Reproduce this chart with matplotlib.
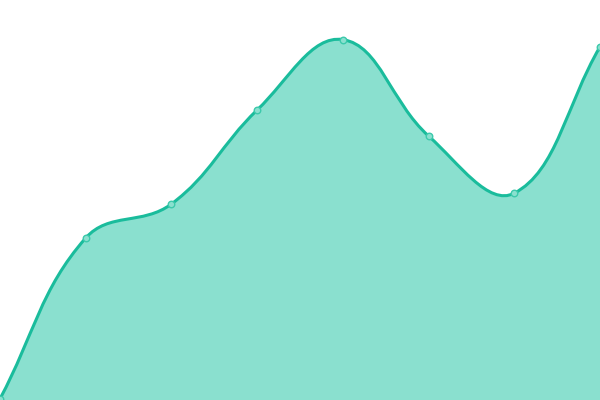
import numpy as np
import matplotlib
matplotlib.use("Agg")
import matplotlib.pyplot as plt
from matplotlib.path import Path
from matplotlib.patches import PathPatch

# data points (x index, value on a 0..100 scale)
labels = ["0", "1", "2", "3", "4", "5", "6", "7"]
values = [0.3, 40.5, 49.0, 72.5, 90.1, 66.0, 51.7, 88.3]

line_color = "#1abc9c"
fill_color = "#8ae0cf"

W, H = 600, 400
x_max = len(values) - 1
y_max = 100.0


def to_px(x, y):
	return np.array([x * W / x_max, y * H / y_max])


def to_data(p):
	return p[0] * x_max / W, p[1] * y_max / H


def spline_controls(pts, t=0.4):
	# chart.js style spline control points, computed in pixel space
	n = len(pts)
	cps = []
	for i in range(n):
		prev = pts[i - 1] if i > 0 else pts[i]
		cur = pts[i]
		nxt = pts[i + 1] if i < n - 1 else pts[i]
		d01 = np.hypot(*(cur - prev))
		d12 = np.hypot(*(nxt - cur))
		s = d01 + d12
		fa = t * d01 / s if s else 0
		fb = t * d12 / s if s else 0
		cp_prev = cur - fa * (nxt - prev)
		cp_next = cur + fb * (nxt - prev)
		cp_prev = np.clip(cp_prev, [0, 0], [W, H])
		cp_next = np.clip(cp_next, [0, 0], [W, H])
		cps.append((cp_prev, cp_next))
	return cps


xs = np.arange(len(values))
pts = [to_px(x, y) for x, y in zip(xs, values)]
cps = spline_controls(pts)

verts = [to_data(pts[0])]
codes = [Path.MOVETO]
for i in range(1, len(pts)):
	verts += [to_data(cps[i - 1][1]), to_data(cps[i][0]), to_data(pts[i])]
	codes += [Path.CURVE4] * 3

line_path = Path(verts, codes)
fill_verts = verts + [(xs[-1], 0), (xs[0], 0), verts[0]]
fill_codes = codes + [Path.LINETO, Path.LINETO, Path.CLOSEPOLY]
fill_path = Path(fill_verts, fill_codes)

fig = plt.figure(figsize=(6, 4), dpi=100)
ax = fig.add_axes([0, 0, 1, 1])
ax.add_patch(PathPatch(fill_path, facecolor=fill_color, edgecolor="none"))
ax.add_patch(PathPatch(line_path, facecolor="none", edgecolor=line_color, lw=2.2))
ax.scatter(xs, values, s=22, facecolor=fill_color, edgecolor="#3cc9ab", linewidth=1, zorder=3, clip_on=False)
ax.set_xlim(0, x_max)
ax.set_ylim(0, y_max)
ax.axis("off")
fig.savefig("out.png", dpi=100)
